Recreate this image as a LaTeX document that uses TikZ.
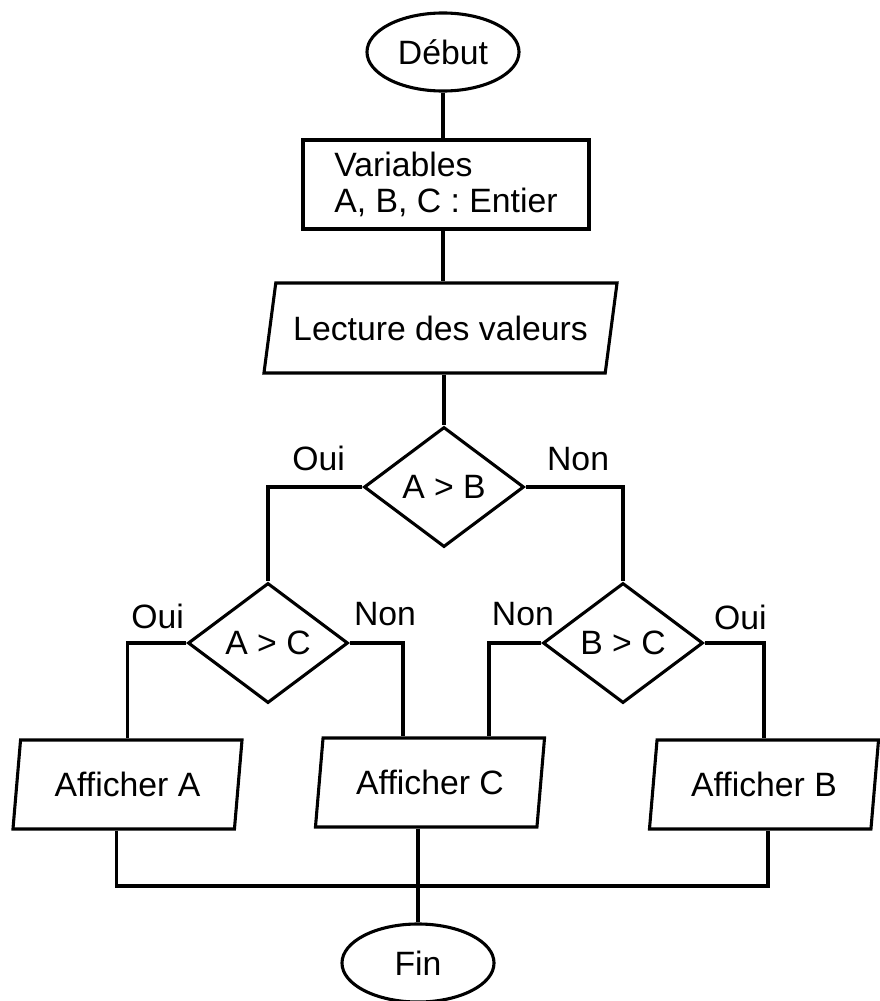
\documentclass[tikz,border=0pt]{standalone}
\usepackage{fontspec}
\setmainfont{Liberation Sans}
\usetikzlibrary{shapes.geometric,calc}

\begin{document}
\begin{tikzpicture}[x=0.025cm,y=-0.025cm,line width=2.2pt,
    every node/.style={font=\fontsize{24}{25.6}\selectfont},
    term/.style={draw,ellipse,minimum width=3.8cm,minimum height=1.95cm,inner sep=1pt},
    decl/.style={draw,rectangle,align=left,minimum width=7.15cm,minimum height=2.225cm},
    io/.style={draw,trapezium,trapezium stretches body=true,inner sep=2pt},
    test/.style={draw,diamond,minimum width=4cm,minimum height=3cm,inner sep=0pt},
    lbl/.style={inner sep=0pt}]
    \useasboundingbox (0,0) rectangle (880,1001);
    \node[term] (debut) at (443,52) {Début};
    \node[decl] (var) at (446,184.5) {Variables\\A, B, C : Entier};
    \node[io,trapezium left angle=68.75,trapezium right angle=111.25,
        minimum width=8.825cm,minimum height=2.25cm] (lect) at (440.5,328) {Lecture des valeurs};
    \node[test] (AB) at (444,487) {A > B};
    \node[test] (AC) at (268,643) {A > C};
    \node[test] (BC) at (623,643) {B > C};
    \node[io,trapezium left angle=76,trapezium right angle=104,
        minimum width=5.725cm,minimum height=2.225cm] (affA) at (127.5,784.5) {Afficher A};
    \node[io,trapezium left angle=76,trapezium right angle=104,
        minimum width=5.725cm,minimum height=2.225cm] (affC) at (430,782.5) {Afficher C};
    \node[io,trapezium left angle=76,trapezium right angle=104,
        minimum width=5.725cm,minimum height=2.225cm] (affB) at (764,784.5) {Afficher B};
    \node[term] (fin) at (418,963) {Fin};
    \coordinate (join) at (418,886);

    \draw (debut.south) -- (debut.south |- var.north);
    \draw (debut.south |- var.south) -- (debut.south |- lect.north);
    \draw (AB.north |- lect.south) -- (AB.north);
    \draw (AB.west) -| (AC.north);
    \draw (AB.east) -| (BC.north);
    \draw (AC.west) -| (affA.north);
    \draw (AC.east) -| ($(affC.north)+(-27,0)$);
    \draw (BC.west) -| ($(affC.north)+(59,0)$);
    \draw (BC.east) -| (affB.north);
    \draw ($(affA.south)+(-11,0)$) |- (join) -| ($(affB.south)+(4,0)$);
    \draw (fin.north |- affC.south) -- (fin.north);

    \node[lbl,anchor=base east] at ($(AB.west)+(-16,-17)$) {Oui};
    \node[lbl,anchor=base west] at ($(AB.east)+(20,-17)$) {Non};
    \node[lbl,anchor=base east] at ($(AC.west)+(-1,-15)$) {Oui};
    \node[lbl,anchor=base west] at ($(AC.east)+(3,-18)$) {Non};
    \node[lbl,anchor=base east] at ($(BC.west)+(14,-18)$) {Non};
    \node[lbl,anchor=base west] at ($(BC.east)+(8,-14)$) {Oui};
\end{tikzpicture}
\end{document}
